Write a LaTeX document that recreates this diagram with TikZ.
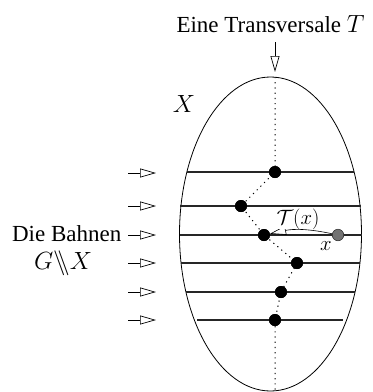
\documentclass[tikz,border=0pt]{standalone}
\usepackage{fontspec}
\setmainfont{Liberation Serif}
\usetikzlibrary{arrows.meta}
\tikzset{
  opentip/.style={-{Triangle[open,length=16pt,width=9pt]}, line width=0.7pt},
  orbit/.style={line width=1.3pt, black!85},
  dot/.style={circle, fill=black, inner sep=0pt, minimum size=12pt},
  graydot/.style={circle, fill=black!55, draw=black!80, line width=0.6pt, inner sep=0pt, minimum size=11.5pt},
  transv/.style={line width=1pt, dash pattern=on 1.2pt off 4pt},
  lbl/.style={font=\fontsize{23}{27}\selectfont, inner sep=0pt}
}
\begin{document}
\begin{tikzpicture}[x=1pt,y=-1pt]
\useasboundingbox (0,0) rectangle (373,392);
% ellipse X
\draw[line width=0.8pt] (270.5,234) ellipse [x radius=91, y radius=157];
% orbits
\coordinate (l1) at (186.9,172); \coordinate (r1) at (354.1,172);
\coordinate (l2) at (180.2,206); \coordinate (r2) at (360.8,206);
\coordinate (l3) at (179.5,235); \coordinate (r3) at (361.5,235);
\coordinate (l4) at (181,263);   \coordinate (r4) at (360,263);
\coordinate (l5) at (186,292);   \coordinate (r5) at (355,292);
\coordinate (l6) at (197,320);   \coordinate (r6) at (343,320);
\foreach \i in {1,...,6} { \draw[orbit] (l\i) -- (r\i); }
% transversal
\coordinate (ttop) at (275,77);
\coordinate (tbot) at (275,391);
\node[dot] (d1) at (275,172) {};
\node[dot] (d2) at (241,206) {};
\node[dot] (d3) at (264,235) {};
\node[dot] (d4) at (297,263) {};
\node[dot] (d5) at (281,292) {};
\node[dot] (d6) at (275,320) {};
\draw[transv] (ttop) -- (d1.center) -- (d2.center) -- (d3.center) -- (d4.center) -- (d5.center) -- (d6.center) -- (tbot);
\foreach \i in {1,...,6} { \node[dot] at (d\i) {}; }
% point x and tau(x)
\node[graydot] (gx) at (338,235) {};
\draw[opentip, line width=0.6pt] (gx) to[bend right=12] (d3);
\node[lbl, fill=white, inner xsep=1pt, font=\fontsize{21}{25}\selectfont] (tau) at (298,219) {$\mathcal{T}(x)$};
\node[lbl, font=\fontsize{21}{25}\selectfont] (xl) at (326,246) {$x$};
% top label and arrow
\node[lbl, anchor=base] (tlabel) at (270.5,32) {Eine Transversale $T$};
\coordinate (ta) at (275,42);
\coordinate (tb) at (275,72);
\draw[opentip] (ta) -- (tb);
\node[lbl, anchor=base] (X) at (184,112) {$X$};
% left arrows
\foreach \y [count=\i] in {173,206,235,263,292,320} {
  \coordinate (a\i) at (128,\y);
  \coordinate (b\i) at (156,\y);
  \draw[opentip] (a\i) -- (b\i);
}
\node[lbl, anchor=base east] (bahn) at (121.5,241) {Die Bahnen};
\node[lbl, anchor=base] (gx2) at (63,269) {$G\backslash\!\!\backslash X$};
\end{tikzpicture}
\end{document}
